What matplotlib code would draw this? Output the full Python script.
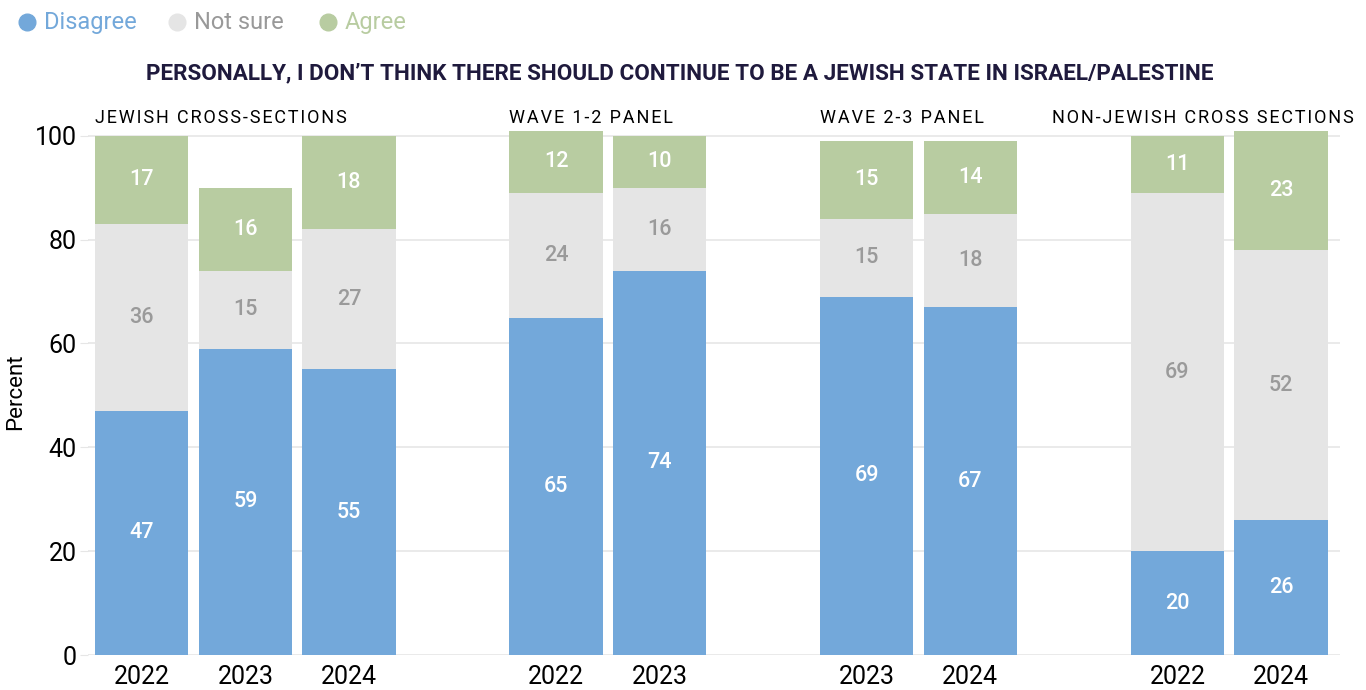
import matplotlib.pyplot as plt
import numpy as np

plt.rcParams['font.family'] = ['Roboto', 'DejaVu Sans']

# survey groups and the years inside each one
groups = ['JEWISH CROSS-SECTIONS', 'WAVE 1-2 PANEL', 'WAVE 2-3 PANEL', 'NON-JEWISH CROSS SECTIONS']
years = [['2022', '2023', '2024'], ['2022', '2023'], ['2023', '2024'], ['2022', '2024']]

# percent answering, in bar order
disagree = [47, 59, 55, 65, 74, 69, 67, 20, 26]
not_sure = [36, 15, 27, 24, 16, 15, 18, 69, 52]
agree = [17, 16, 18, 12, 10, 15, 14, 11, 23]

blue = '#73a8da'
grey = '#e5e5e5'
green = '#b8cca1'

# bar positions: one empty slot between groups
xpos = []
group_start = []
slot = 0
for g in years:
    group_start.append(slot)
    for y in g:
        xpos.append(slot)
        slot += 1
    slot += 1
xpos = np.array(xpos)
tick_labels = [y for g in years for y in g]

fig = plt.figure(figsize=(13.66, 6.9), dpi=100)
ax = fig.add_axes([0.0644, 0.0507, 0.9166, 0.7638])

d = np.array(disagree)
n = np.array(not_sure)
a = np.array(agree)
w = 0.9
ax.bar(xpos, d, width=w, color=blue, zorder=2)
ax.bar(xpos, n, width=w, bottom=d, color=grey, zorder=2)
ax.bar(xpos, a, width=w, bottom=d + n, color=green, zorder=2)

lab_kw = dict(ha='center', va='center', fontsize=15.5, fontweight='medium', zorder=3)
for i, x in enumerate(xpos):
    ax.text(x, d[i] / 2, str(d[i]), color='white', **lab_kw)
    ax.text(x, d[i] + n[i] / 2, str(n[i]), color='#9a9a9a', **lab_kw)
    ax.text(x, d[i] + n[i] + a[i] / 2, str(a[i]), color='white', **lab_kw)

ax.set_xlim(-0.52, 11.57)
ax.set_ylim(0, 101.5)
ax.set_yticks([0, 20, 40, 60, 80, 100])
ax.set_xticks(xpos)
ax.set_xticklabels(tick_labels)
ax.tick_params(axis='x', length=0, labelsize=18, pad=7)
ax.tick_params(axis='y', length=6, color='#e6e6e6', labelsize=18, pad=2)
ax.grid(axis='y', color='#e6e6e6', linewidth=1.2, zorder=0)
for s in ax.spines.values():
    s.set_visible(False)
ax.set_ylabel('Percent', fontsize=16, labelpad=6)


def spaced(s):
    return '\u200a'.join(s)


# group headers above the bars
for k, g in enumerate(groups):
    if k == len(groups) - 1:
        ax.text(11.7, 101.6, spaced(g), ha='right', va='bottom', fontsize=13, clip_on=False)
    else:
        ax.text(group_start[k] - 0.45, 101.6, spaced(g), ha='left', va='bottom', fontsize=13, clip_on=False)

fig.text(0.4978, 0.894, 'PERSONALLY, I DON\u2019T THINK THERE SHOULD CONTINUE TO BE A JEWISH STATE IN ISRAEL/PALESTINE',
         ha='center', va='center', fontsize=16.2, fontweight='bold', color='#1f1a3d')

# legend row
leg = [('Disagree', blue, '#73a8da'), ('Not sure', grey, '#999999'), ('Agree', green, '#b8cca1')]
leg_x = [0.0198, 0.1296, 0.2401]
for (name, c, tc), lx in zip(leg, leg_x):
    fig.lines.append(plt.Line2D([lx], [0.968], marker='o', markersize=12, color=c,
                                transform=fig.transFigure, figure=fig))
    fig.text(lx + 0.0125, 0.967, name, ha='left', va='center', fontsize=17, color=tc)

fig.savefig('out.png', dpi=100)
